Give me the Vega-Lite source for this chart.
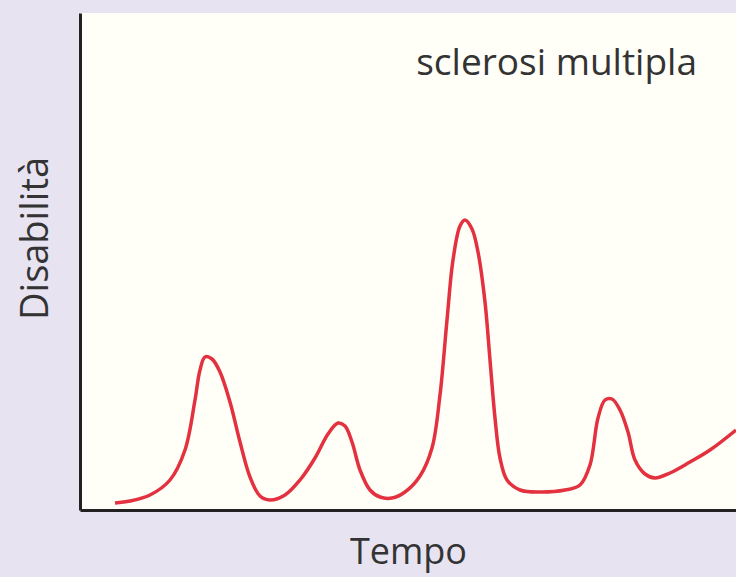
{
  "$schema": "https://vega.github.io/schema/vega-lite/v6.json",
  "width": 656,
  "height": 497,
  "autosize": {"type": "none"},
  "padding": {"left": 80, "top": 13, "right": 0, "bottom": 67},
  "background": "#e7e3f1",
  "config": {
    "view": {"fill": "#fffff7", "stroke": null},
    "axis": {"domainColor": "#222222", "domainWidth": 3, "ticks": false, "labels": false, "grid": false, "titleFont": "Open Sans", "titleFontWeight": "normal", "titleColor": "#333333"}
  },
  "datasets": {
    "curve": [
      {"t": 35, "d": 7}, {"t": 50, "d": 9}, {"t": 70, "d": 15}, {"t": 90, "d": 30}, {"t": 105, "d": 60},
      {"t": 115, "d": 110}, {"t": 120, "d": 140}, {"t": 125, "d": 153}, {"t": 132, "d": 151}, {"t": 140, "d": 138},
      {"t": 150, "d": 108}, {"t": 160, "d": 68}, {"t": 170, "d": 33}, {"t": 180, "d": 14}, {"t": 190, "d": 10},
      {"t": 205, "d": 15}, {"t": 220, "d": 30}, {"t": 235, "d": 52}, {"t": 248, "d": 76}, {"t": 258, "d": 87},
      {"t": 265, "d": 84}, {"t": 272, "d": 68}, {"t": 280, "d": 40}, {"t": 290, "d": 20}, {"t": 300, "d": 13},
      {"t": 312, "d": 12}, {"t": 325, "d": 18}, {"t": 340, "d": 34}, {"t": 352, "d": 62}, {"t": 360, "d": 115},
      {"t": 367, "d": 190}, {"t": 373, "d": 250}, {"t": 380, "d": 284}, {"t": 385, "d": 290}, {"t": 392, "d": 281},
      {"t": 398, "d": 258}, {"t": 405, "d": 208}, {"t": 410, "d": 150}, {"t": 415, "d": 92}, {"t": 420, "d": 52},
      {"t": 427, "d": 30}, {"t": 440, "d": 20}, {"t": 460, "d": 18}, {"t": 485, "d": 20}, {"t": 500, "d": 25},
      {"t": 510, "d": 45}, {"t": 518, "d": 92}, {"t": 525, "d": 110}, {"t": 532, "d": 111}, {"t": 540, "d": 100},
      {"t": 548, "d": 78}, {"t": 555, "d": 50}, {"t": 565, "d": 36}, {"t": 575, "d": 32}, {"t": 590, "d": 37},
      {"t": 610, "d": 48}, {"t": 630, "d": 60}, {"t": 656, "d": 80}
    ],
    "label": [{"text": "sclerosi multipla"}]
  },
  "layer": [
    {
      "data": {"name": "curve"},
      "mark": {"type": "line", "interpolate": "catmull-rom", "color": "#e3313f", "strokeWidth": 3.5, "clip": true},
      "encoding": {
        "x": {"field": "t", "type": "quantitative", "scale": {"domain": [0, 656], "nice": false, "zero": false}, "axis": {"title": "Tempo", "titleFontSize": 36, "titleY": 53, "titleBaseline": "alphabetic"}},
        "y": {"field": "d", "type": "quantitative", "scale": {"domain": [0, 497], "nice": false}, "axis": {"title": "Disabilità", "titleFontSize": 38, "titleX": -33, "titleY": 225, "titleBaseline": "alphabetic"}}
      }
    },
    {
      "data": {"name": "label"},
      "mark": {"type": "text", "align": "right", "baseline": "alphabetic", "font": "Open Sans", "fontSize": 37, "color": "#333333"},
      "encoding": {
        "x": {"datum": 617, "type": "quantitative"},
        "y": {"datum": 435, "type": "quantitative"},
        "text": {"field": "text"}
      }
    }
  ]
}
